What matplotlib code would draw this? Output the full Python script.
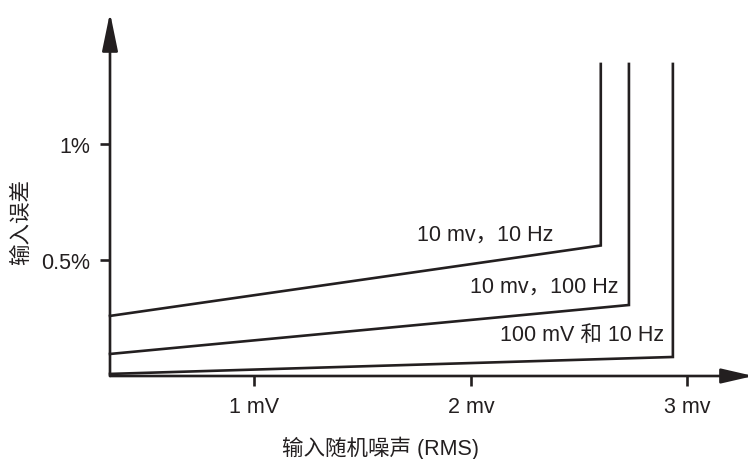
import matplotlib
matplotlib.use("Agg")
import matplotlib.pyplot as plt

plt.rcParams['font.family'] = ['Liberation Sans', 'Noto Sans CJK SC', 'DejaVu Sans']

INK = '#231f20'

# Data (x in mV, y in %)
series_names = ['10 mv，10 Hz', '10 mv，100 Hz', '100 mV 和 10 Hz']
x_start = [0.333, 0.333, 0.333]
y_start = [0.259, 0.095, 0.009]
x_corner = [2.600, 2.730, 2.933]
y_corner = [0.5625, 0.306, 0.082]
y_top = [1.345, 1.345, 1.345]

label_x = [2.383, 2.684, 2.892]
label_y = [0.612, 0.388, 0.177]

xtick_vals = [1, 2, 3]
xtick_labels = ['1 mV', '2 mv', '3 mv']
ytick_vals = [0.5, 1.0]
ytick_labels = ['0.5%', '1%']

xmin, xmax = 0.333, 3.28
ymin, ymax = 0.0, 1.556

W, H = 748, 460
fig = plt.figure(figsize=(W / 100, H / 100), dpi=100)
ax = fig.add_axes([110 / W, (H - 377) / H, (748 - 110) / W, (377 - 16) / H])
ax.set_xlim(xmin, xmax)
ax.set_ylim(ymin, ymax)
for s in ax.spines.values():
    s.set_visible(False)
ax.patch.set_alpha(0)

for i in range(3):
    ax.plot([x_start[i], x_corner[i], x_corner[i]],
            [y_start[i], y_corner[i], y_top[i]],
            color=INK, lw=1.9, solid_joinstyle='miter', clip_on=False)
    ax.text(label_x[i], label_y[i], series_names[i], ha='right', va='center',
            fontsize=15.5, color=INK)

# axes with arrows
ax.annotate('', xy=(xmax + 0.025, 0), xytext=(xmin, 0), xycoords='data',
            arrowprops=dict(arrowstyle='-|>,head_length=1.3,head_width=0.3',
                            mutation_scale=15, lw=1.9, color=INK,
                            shrinkA=0, shrinkB=0), annotation_clip=False)
ax.annotate('', xy=(xmin, ymax + 0.01), xytext=(xmin, 0), xycoords='data',
            arrowprops=dict(arrowstyle='-|>,head_length=1.55,head_width=0.32',
                            mutation_scale=15, lw=1.9, color=INK,
                            shrinkA=0, shrinkB=0), annotation_clip=False)

ax.set_xticks(xtick_vals)
ax.set_xticklabels(xtick_labels)
ax.set_yticks(ytick_vals)
ax.set_yticklabels(ytick_labels)
ax.tick_params(axis='both', direction='out', length=7.5, width=1.9, color=INK,
               labelsize=15.5, labelcolor=INK)
ax.tick_params(axis='x', pad=7)
ax.tick_params(axis='y', pad=7)

fig.text(380 / W, 1 - 448 / H, '输入随机噪声 (RMS)', ha='center', va='center',
         fontsize=15.5, color=INK)
fig.text(22 / W, 1 - 222 / H, '输入误差', ha='center', va='center',
         rotation=90, fontsize=15.5, color=INK)

fig.savefig('out.png', dpi=100)
